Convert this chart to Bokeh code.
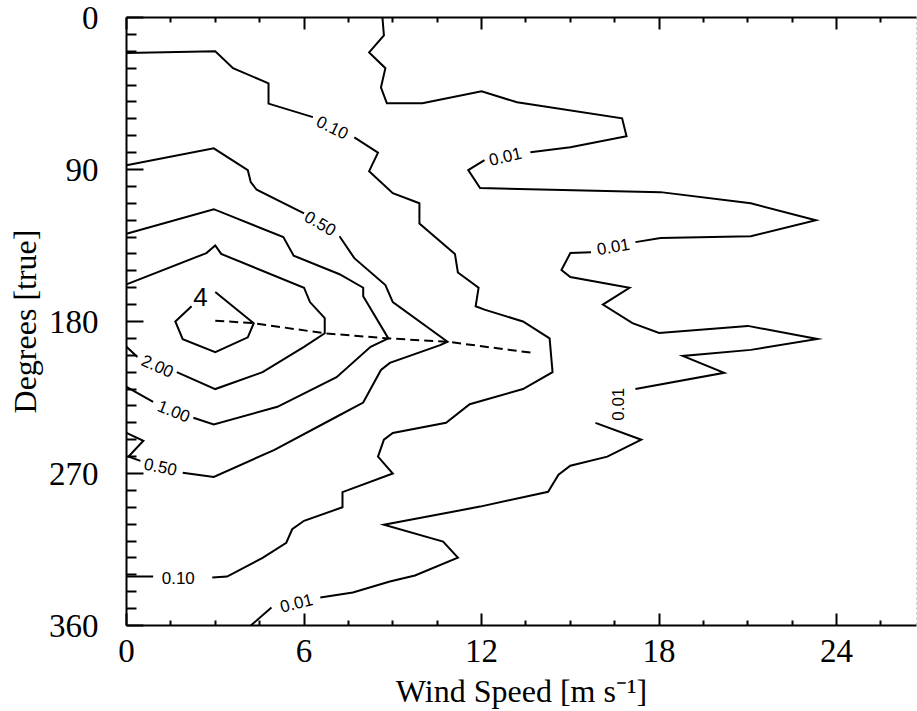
import numpy as np
from bokeh.plotting import figure
from bokeh.models import Range1d, LinearAxis, FixedTicker
from bokeh.core.properties import value
from bokeh.embed import file_html
from bokeh.resources import INLINE

nan = np.nan

# ---------------- data (wind speed [m/s], direction [deg true]) ----------------
x_ticks = [0, 6, 12, 18, 24]
x_minor = [1.5, 3, 4.5, 7.5, 9, 10.5, 13.5, 15, 16.5, 19.5, 21, 22.5, 25.5]
y_ticks = [0, 90, 180, 270, 360]
y_minor = [10, 20, 30, 40, 50, 60, 70, 80, 100, 110, 120, 130, 140, 150, 160, 170,
           190, 200, 210, 220, 230, 240, 250, 260, 280, 290, 300, 310, 320, 330, 340, 350]

# contour 0.01 (gaps = label positions)
c001_speed = [8.65, 8.7, 8.2, 8.75, 8.6, 8.8, 10.0, 12.0, 13.2, 16.75, 16.9, 15.0, 13.65, nan,
              12.1, 11.55, 11.95, 18.05, 21.1, 23.3, 21.1, 18.05, 17.2, nan,
              15.7, 15.0, 14.7, 15.0, 17.0, 16.1, 17.1, 18.0, 21.0, 23.35, 21.1, 18.8, 20.2, 17.2, nan,
              15.85, 17.4, 16.25, 15.0, 14.6, 14.25, 11.95, 8.7, 10.7, 11.2, 9.75, 8.9, 7.65, 6.55, nan,
              4.9, 4.2]
c001_dir = [0, 10.6, 20.7, 30, 41.4, 50.8, 50.8, 43.7, 50.2, 59.7, 70.3, 76.8, 79.8, nan,
            84.5, 90.4, 101, 103.4, 110, 120, 129.5, 130.6, 133, nan,
            139, 139.5, 149.5, 153.7, 160, 170, 181, 186.8, 182.6, 190.3, 196.8, 200.4, 210.4, 220, nan,
            240, 250, 260, 265.4, 270.7, 280.8, 289.6, 300.3, 310.3, 319.8, 330.4, 334, 340.5, 343.4, nan,
            349.4, 360]

# contour 0.10
c010_speed = [0, 3.0, 3.6, 4.8, 4.8, 6.3, nan, 7.7, 8.5, 8.2, 9.0, 9.9, 9.9, 11.1, 11.2, 11.9, 11.8,
              12.1, 13.4, 14.3, 14.4, 13.4, 11.6, 10.8, 9.0, 8.7, 8.5, 9.0, 7.3, 7.3, 6.0, 5.6, 5.4,
              4.6, 3.4, 2.9, nan, 0.9, 0]
c010_dir = [21, 20, 30, 39, 51, 59, nan, 71, 80, 91, 104, 110, 122, 140, 151, 160, 171,
            173, 180, 190, 210, 220, 229, 240, 246, 250, 260, 270, 281, 290, 298, 303, 311,
            320, 331, 331.6, nan, 331, 331]

# contour 0.50
c050_speed = [0, 2.95, 4.1, 4.2, 4.4, 6.0, nan, 7.2, 7.7, 8.75, 9.0, 10.85, 10.6, 8.9, 8.6, 8.0,
              7.1, 5.0, 2.95, 1.9, nan, 0.47, 0.07, 0.57, 0]
c050_dir = [87.5, 77.5, 90.4, 97.5, 102, 116, nan, 129.5, 142.5, 158.4, 168.5, 192, 194, 204.5, 208.7, 228,
            236.4, 256, 272, 269.5, nan, 262.5, 260, 250.6, 246]

# contour 1.00
c100_speed = [0, 2.95, 5.3, 5.65, 7.2, 8.0, 8.0, 8.85, 8.25, 7.1, 5.1, 2.95, 2.26, nan, 0.9, 0]
c100_dir = [128, 113.5, 130, 141, 152, 160, 165, 190, 195, 213, 230.5, 241, 237, nan, 227.6, 218.7]

# contour 2.00
c200_speed = [0, 2.7, 3.0, 3.2, 6.0, 6.2, 6.7, 6.7, 6.0, 4.6, 3.0, 1.7, nan, 0.37, 0]
c200_dir = [158, 139.5, 135, 140, 160, 168.5, 178, 187, 195, 210, 220, 210, nan, 201, 195]

# contour 4
c400_speed = [3.0, 4.3, 4.1, 3.0, 1.9, 1.65, 2.2]
c400_dir = [162.5, 181, 189.4, 198.2, 190.5, 180, 171]

# ridge (dashed)
ridge_speed = [3.0, 4.3, 6.7, 8.85, 10.85, 13.7]
ridge_dir = [179.5, 181, 187, 190, 192, 198.5]

# contour labels
label_text = ["0.10", "0.50", "2.00", "1.00", "0.50", "0.10", "0.01", "0.01", "0.01", "0.01"]
label_speed = [6.96, 6.55, 1.05, 1.6, 1.15, 1.75, 12.8, 16.45, 16.6, 5.74]
label_dir = [65, 121.8, 206.3, 233, 266, 331.6, 82.2, 135.6, 229, 346.6]
label_angle = [-26, -30, -24, -22, -12, 0, 13, 10, 90, 14]

peak_text = ["4"]
peak_speed = [2.5]
peak_dir = [165.5]

# ---------------- figure ----------------
p = figure(width=917, height=711,
           x_range=Range1d(0, 26.7), y_range=Range1d(360, 0),
           output_backend="svg", toolbar_location=None,
           min_border_left=126, min_border_right=1, min_border_top=17, min_border_bottom=85,
           x_axis_label="Wind Speed [m s\u207b\u00b9]", y_axis_label="Degrees [true]")

p.xgrid.grid_line_color = None
p.ygrid.grid_line_color = None
p.background_fill_color = "white"
p.border_fill_color = "white"
p.outline_line_color = "#c4c4c4"
p.outline_line_dash = "2 3"
p.outline_line_width = 1

for sx, sy in [(c001_speed, c001_dir), (c010_speed, c010_dir), (c050_speed, c050_dir),
               (c100_speed, c100_dir), (c200_speed, c200_dir), (c400_speed, c400_dir)]:
    p.line(sx, sy, line_color="black", line_width=2, line_join="miter")

p.line(ridge_speed, ridge_dir, line_color="black", line_width=2, line_dash="9 5")

p.text(x=label_speed, y=label_dir, text=label_text, angle=label_angle, angle_units="deg",
       text_font=value("Liberation Sans"), text_font_size="17px",
       text_align="center", text_baseline="middle", text_color="black")
p.text(x=peak_speed, y=peak_dir, text=peak_text,
       text_font=value("Liberation Sans"), text_font_size="26px",
       text_align="center", text_baseline="middle", text_color="black")

serif = "Liberation Serif"

xa = p.xaxis[0]
xa.ticker = FixedTicker(ticks=x_ticks, minor_ticks=x_minor)
ya = p.yaxis[0]
ya.ticker = FixedTicker(ticks=y_ticks, minor_ticks=y_minor)

ta = LinearAxis(ticker=FixedTicker(ticks=x_ticks, minor_ticks=x_minor))
p.add_layout(ta, "above")

for ax in (xa, ta):
    ax.major_tick_in = 12
    ax.major_tick_out = 0
    ax.minor_tick_in = 5
    ax.minor_tick_out = 0

ya.major_tick_in = 17
ya.major_tick_out = 0
ya.minor_tick_in = 10
ya.minor_tick_out = 0

for ax in (xa, ya, ta):
    ax.axis_line_width = 2
    ax.axis_line_color = "black"
    ax.major_tick_line_width = 2
    ax.minor_tick_line_width = 2
    ax.major_tick_line_color = "black"
    ax.minor_tick_line_color = "black"
    ax.major_label_text_font = serif
    ax.major_label_text_font_size = "33px"
    ax.major_label_text_color = "black"
    ax.axis_label_text_font = serif
    ax.axis_label_text_font_size = "32px"
    ax.axis_label_text_font_style = "normal"
    ax.axis_label_text_color = "black"

ta.major_label_text_font_size = "0px"
ta.major_label_text_color = None

xa.major_label_standoff = 14
xa.axis_label_standoff = 8
ya.major_label_standoff = 28
ya.axis_label_standoff = 3

open("out.html", "w").write(file_html(p, INLINE))
